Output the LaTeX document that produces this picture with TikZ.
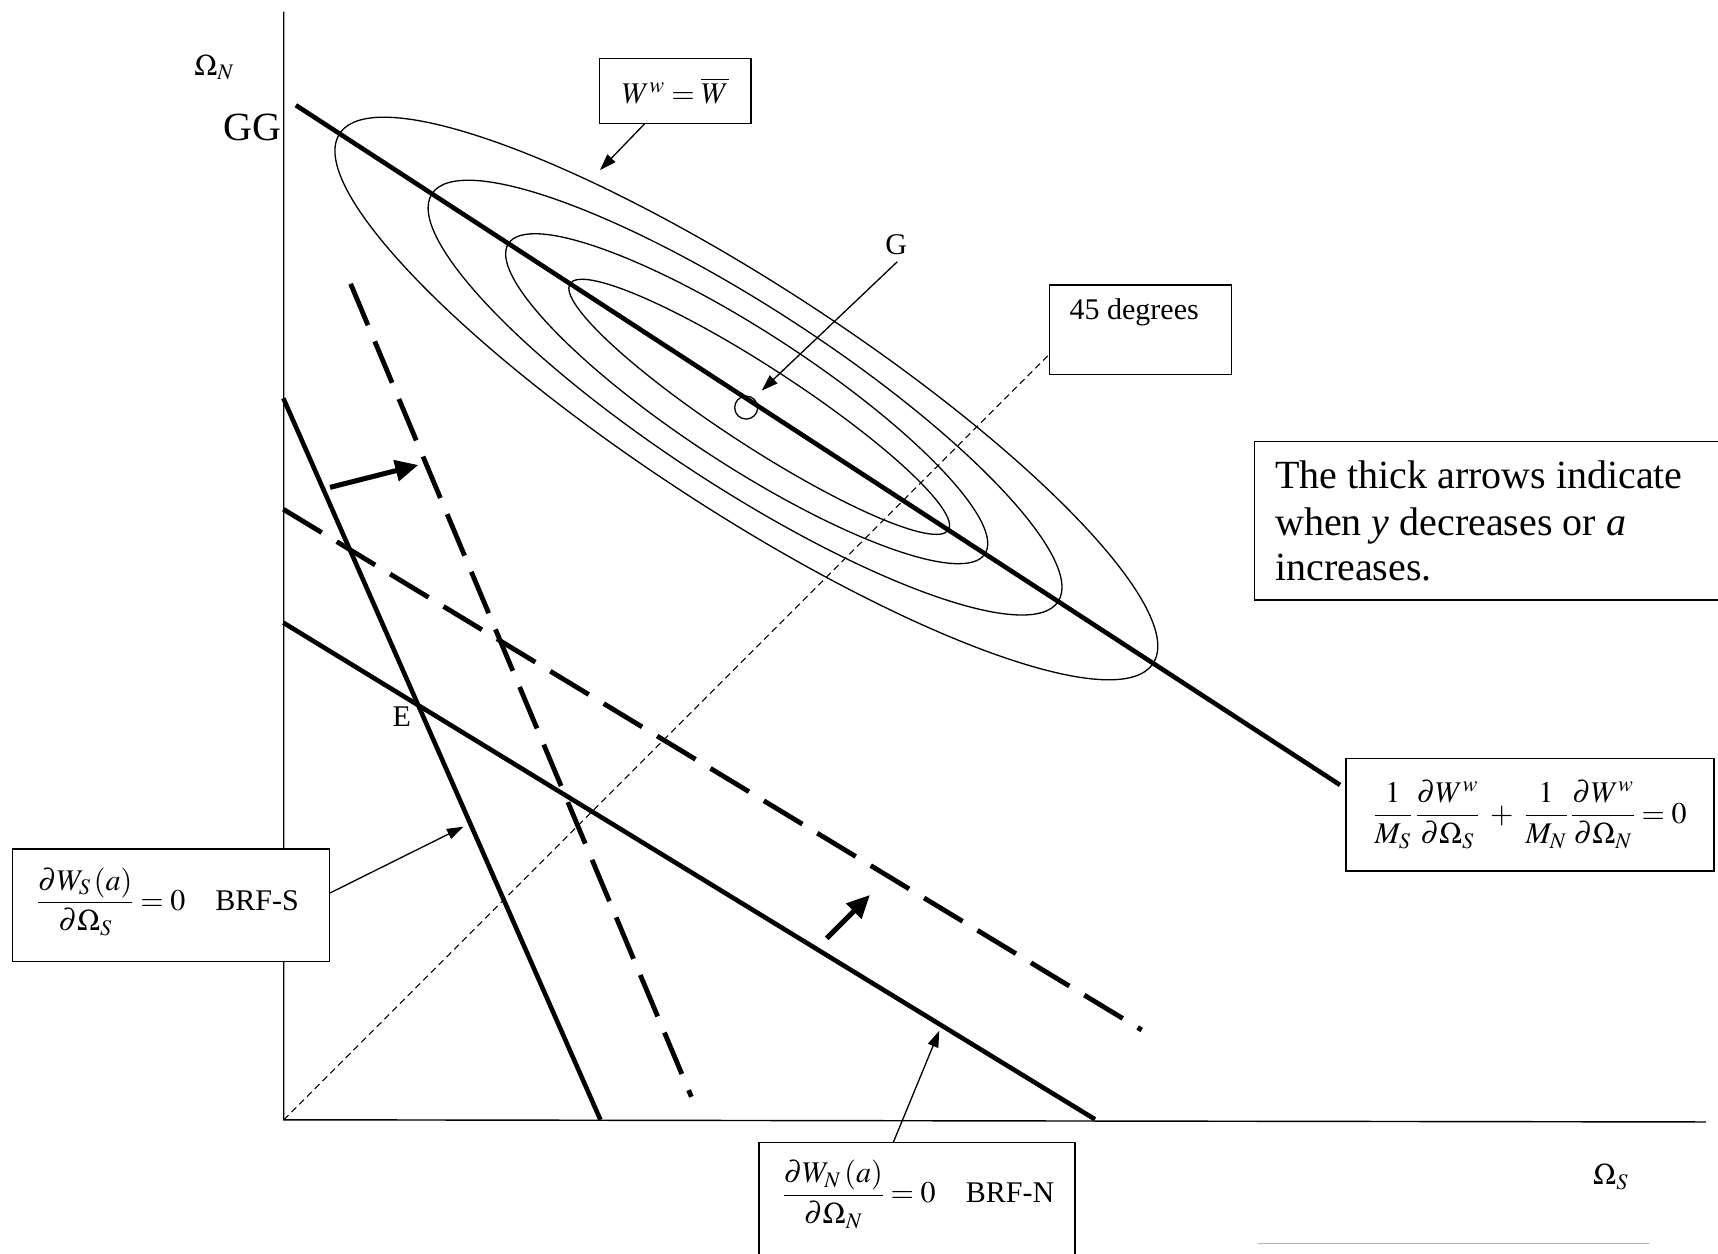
\documentclass[tikz,border=0pt]{standalone}
\usepackage{mathptmx}
\usepackage[no-math]{fontspec}
\setmainfont{Liberation Serif}
\usetikzlibrary{arrows.meta}
\newcommand{\smallsz}{\fontsize{27.4}{32}\selectfont}
\newcommand{\bigsz}{\fontsize{36.5}{42}\selectfont}
\begin{document}
\begin{tikzpicture}[x=1pt,y=-1pt,
  thinline/.style={line width=1.2pt},
  axisline/.style={line width=1.3pt},
  bigline/.style={line width=4.2pt},
  dashline/.style={line width=4.4pt, dash pattern=on 41pt off 16pt},
  diagline/.style={line width=1pt, dash pattern=on 6pt off 4pt},
  boxnode/.style={draw, line width=1.3pt, fill=white, inner sep=0pt},
  lbl/.style={inner sep=0pt, font=\smallsz},
  biglbl/.style={inner sep=0pt, font=\bigsz},
  thinarrow/.style={line width=1.2pt, -{Triangle[length=15pt,width=10pt]}},
  fatarrow/.style={line width=4.6pt, -{Triangle[length=21pt,width=19pt]}}]
\useasboundingbox (0,0) rectangle (1568,1144);

% axes
\coordinate (O) at (259,1022);
\coordinate (ytop) at (259,10.7);
\coordinate (xend) at (1557,1024);
\draw[axisline] (ytop) -- (O) -- (xend);

% 45 degree line
\coordinate (d45) at (958,323);
\draw[diagline] (O) -- (d45);

% ellipses
\draw[thinline, rotate around={-33.07:(681.2,363.7)}] (681.2,363.7) ellipse [x radius=443pt, y radius=103pt];
\draw[thinline, rotate around={-33.07:(680,362.9)}] (680,362.9) ellipse [x radius=341pt, y radius=82pt];
\draw[thinline, rotate around={-33.07:(681.5,363.9)}] (681.5,363.9) ellipse [x radius=259.5pt, y radius=61pt];
\draw[thinline, rotate around={-33.07:(692.9,371.3)}] (692.9,371.3) ellipse [x radius=206pt, y radius=36pt];

% GG line
\coordinate (gg1) at (270,96);
\coordinate (gg2) at (1223,716.4);
\draw[bigline] (gg1) -- (gg2);

% reaction functions
\coordinate (s1) at (258.6,363.5);
\coordinate (s2) at (548,1022);
\draw[bigline] (s1) -- (s2);
\coordinate (n1) at (258.6,568.3);
\coordinate (n2) at (999.4,1021.6);
\draw[bigline] (n1) -- (n2);
\coordinate (ds1) at (320,259);
\coordinate (ds2) at (631,1001);
\draw[dashline] (ds1) -- (ds2);
\coordinate (dn1) at (258.6,464.8);
\coordinate (dn2) at (1042,940);
\draw[dashline] (dn1) -- (dn2);

% point G
\node[circle, draw, line width=1.2pt, minimum size=21pt, inner sep=0pt] (gpt) at (681,372) {};

% labels
\node[lbl, anchor=base] (omn) at (195.5,68.5) {$\Omega_N$};
\node[biglbl, anchor=base east] (gglbl) at (257,127.8) {GG};
\node[lbl, anchor=base] (glbl) at (818,232.7) {G};
\node[lbl, anchor=base] (elbl) at (366.6,663.2) {E};
\node[lbl, anchor=base] (oms) at (1470,1081.5) {$\Omega_S$};

% boxes
\node[boxnode, minimum width=138.1pt, minimum height=59.4pt, font=\smallsz] (wbox) at (616.35,82.9) {$W^{w}=\overline{W}$};
\node[boxnode, minimum width=166pt, minimum height=82pt] (degbox) at (1041,301) {};
\node[lbl, anchor=base west] (degtxt) at (976,292) {45 degrees};
\node[boxnode, minimum width=424pt, minimum height=144.6pt] (tbox) at (1357,475.3) {};
\node[biglbl, anchor=base west] (t1) at (1163.6,445.7) {The thick arrows indicate};
\node[biglbl, anchor=base west] (t2) at (1163.6,488.3) {when \textit{y} decreases or \textit{a}};
\node[biglbl, anchor=base west] (t3) at (1163.6,529.4) {increases.};
\node[boxnode, minimum width=335.8pt, minimum height=103pt, font=\smallsz] (fbox) at (1396.4,743.5)
  {$\displaystyle\frac{\,1\,}{M_S}\,\frac{\partial W^{w}}{\partial\Omega_S}\;+\;\frac{\,1\,}{M_N}\,\frac{\partial W^{w}}{\partial\Omega_N}=0$};
\node[boxnode, minimum width=289pt, minimum height=102.9pt] (sbox) at (156.1,826.25) {};
\node[lbl, anchor=west] (stxt) at (33.5,823)
  {$\displaystyle\frac{\partial W_S\left(a\right)}{\partial\Omega_S}=0$\hspace{1.0em}BRF-S};
\node[boxnode, minimum width=288.1pt, minimum height=110pt] (nbox) at (836.95,1097.6) {};
\node[lbl, anchor=west] (ntxt) at (714,1090)
  {$\displaystyle\frac{\partial W_N\left(a\right)}{\partial\Omega_N}=0$\hspace{1.0em}BRF-N};

% bottom grey line
\coordinate (gl1) at (1148.6,1135);
\coordinate (gl2) at (1505,1135);
\draw[line width=1.3pt, gray!60] (gl1) -- (gl2);

% thin arrows
\coordinate (wa1) at (588.7,112.6);
\coordinate (wa2) at (547.6,155.2);
\draw[thinarrow] (wa1) -- (wa2);
\coordinate (ga1) at (819,238.8);
\coordinate (ga2) at (695.2,356.5);
\draw[thinarrow] (ga1) -- (ga2);
\coordinate (sa1) at (300.6,815.3);
\coordinate (sa2) at (422.9,754.5);
\draw[thinarrow] (sa1) -- (sa2);
\coordinate (na1) at (815.3,1042.6);
\coordinate (na2) at (857.3,940.7);
\draw[thinarrow] (na1) -- (na2);

% thick arrows
\coordinate (fa1) at (301.2,444.8);
\coordinate (fa2) at (381.8,424.4);
\draw[fatarrow] (fa1) -- (fa2);
\coordinate (fb1) at (754.5,856.4);
\coordinate (fb2) at (794,816.8);
\draw[fatarrow] (fb1) -- (fb2);
\end{tikzpicture}
\end{document}
